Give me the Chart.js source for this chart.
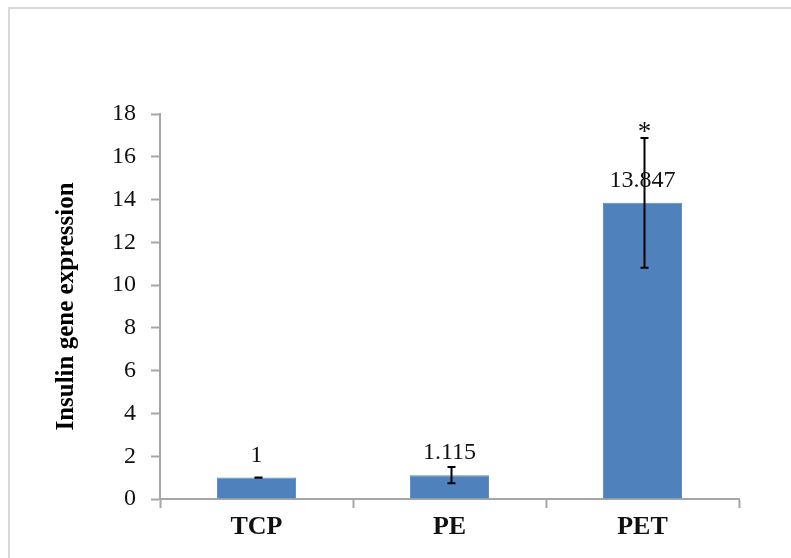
<!DOCTYPE html>
<html>
<head>
<meta charset="utf-8">
<script src="https://cdn.jsdelivr.net/npm/chart.js@4.4.1/dist/chart.umd.min.js"></script>
<style>
  html, body { margin: 0; padding: 0; background: #fff; overflow: hidden; }
  #wrap { width: 791px; height: 558px; }
</style>
</head>
<body>
<div id="wrap"><canvas id="barChart"></canvas></div>
<script>
const categories = ['TCP', 'PE', 'PET'];
const expression = [1, 1.115, 13.847];
const errors = [0.01, 0.38, 3.03];
const significant = [false, false, true];
const yTicks = [0, 2, 4, 6, 8, 10, 12, 14, 16, 18];

const serif = '"Liberation Serif", "Times New Roman", serif';

// error bars, value labels, asterisk and the outer frame
const extras = {
    id: 'extras',
    afterDatasetsDraw(chart) {
        const ctx = chart.ctx;
        const y = chart.scales.y;
        const meta = chart.getDatasetMeta(0);
        ctx.save();
        meta.data.forEach((bar, i) => {
            const v = expression[i];
            const e = errors[i];
            const yTop = y.getPixelForValue(v + e);
            const yBot = y.getPixelForValue(v - e);
            const x = bar.x + 2;
            ctx.strokeStyle = '#000';
            ctx.lineWidth = 2;
            ctx.beginPath();
            ctx.moveTo(x, yTop); ctx.lineTo(x, yBot);
            ctx.moveTo(x - 4, yTop); ctx.lineTo(x + 4, yTop);
            ctx.moveTo(x - 4, yBot); ctx.lineTo(x + 4, yBot);
            ctx.stroke();

            ctx.fillStyle = '#111';
            ctx.font = '24px ' + serif;
            ctx.textAlign = 'center';
            ctx.textBaseline = 'middle';
            ctx.fillText(String(v), bar.x, bar.y - 22);

            if (significant[i]) {
                ctx.font = '27px ' + serif;
                ctx.textBaseline = 'alphabetic';
                ctx.fillText('*', x, yTop + 2);
            }
        });
        ctx.strokeStyle = '#d9d9d9';
        ctx.lineWidth = 2;
        ctx.strokeRect(9, 8, 1000, 1000);
        ctx.restore();
    }
};

const ctxBar = document.getElementById('barChart').getContext('2d');
const barChart = new Chart(ctxBar, {
    type: 'bar',
    data: {
        labels: categories,
        datasets: [{
            data: expression,
            backgroundColor: '#4f81bd',
            borderColor: '#5a8ac4',
            borderWidth: 1,
            barPercentage: 1,
            categoryPercentage: 0.41
        }]
    },
    options: {
        responsive: true,
        maintainAspectRatio: false,
        animation: false,
        layout: { padding: { top: 114, right: 52, left: 0, bottom: 0 } },
        plugins: {
            legend: { display: false },
            tooltip: { enabled: false }
        },
        scales: {
            x: {
                afterFit(scale) { scale.height = 59; },
                grid: {
                    drawOnChartArea: false,
                    tickLength: 9,
                    tickColor: '#a6a6a6',
                    tickWidth: 2
                },
                border: { color: '#a6a6a6', width: 2 },
                ticks: {
                    color: '#111',
                    padding: 4,
                    font: { family: serif, size: 26, weight: 'bold' }
                }
            },
            y: {
                min: 0,
                max: 18,
                afterFit(scale) { scale.width = 160; },
                afterBuildTicks(scale) {
                    scale.ticks = yTicks.map(v => ({ value: v }));
                },
                grid: {
                    drawOnChartArea: false,
                    tickLength: 9,
                    tickColor: '#a6a6a6',
                    tickWidth: 2
                },
                border: { color: '#a6a6a6', width: 2 },
                ticks: {
                    color: '#111',
                    padding: 15,
                    font: { family: serif, size: 24 }
                },
                title: {
                    display: true,
                    text: 'Insulin gene expression',
                    color: '#000',
                    padding: { top: 52, bottom: 0 },
                    font: { family: serif, size: 25, weight: 'bold' }
                }
            }
        }
    },
    plugins: [extras]
});
</script>
</body>
</html>
